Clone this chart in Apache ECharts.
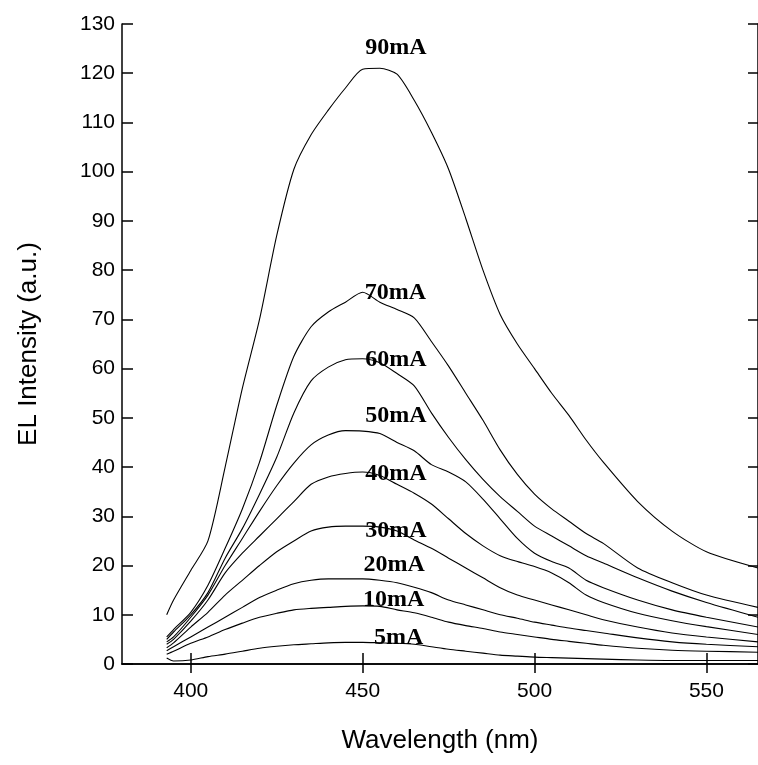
<!DOCTYPE html>
<html>
<head>
<meta charset="utf-8">
<script src="https://cdn.jsdelivr.net/npm/echarts@6/dist/echarts.min.js"></script>
<style>
html,body{margin:0;padding:0;background:#fff;}
#chart{width:758px;height:765px;}
</style>
</head>
<body>
<div id="chart"></div>
<script>
// Wavelength grid (nm)
var wavelength = [393, 395, 400, 405, 410, 415, 420, 425, 430, 435, 440, 445, 450, 455, 460, 465, 470, 475, 480, 485, 490, 495, 500, 505, 510, 515, 520, 530, 540, 550, 565];

// EL intensity (a.u.) for each drive current
var i90 = [10, 13, 19, 25, 40, 56, 70, 87, 100.5, 107.5, 112.5, 117, 120.8, 121, 119.8, 114.5, 108, 100.5, 90.5, 80, 71, 65, 60, 55, 50.5, 45.5, 41, 33, 27, 22.8, 19.5];
var i70 = [5.5, 7, 10.5, 16, 23.5, 31.5, 41, 52.5, 62.5, 68.5, 71.5, 73.5, 75.5, 73.5, 72, 70.3, 65.5, 60.5, 55, 49.5, 43.5, 38.5, 34.5, 31.5, 29, 26.5, 24.5, 19.5, 16.5, 14, 11.5];
var i60 = [5, 6.5, 10, 14.5, 21.5, 27.5, 34.5, 42, 51, 57.5, 60.3, 61.8, 62, 61.2, 59, 56.5, 51, 46, 41.5, 37.5, 34, 31, 28, 26, 24, 22, 20.5, 17.5, 14.8, 12.5, 9.5];
var i50 = [4.5, 5.5, 9.5, 14, 20, 25.5, 31, 36.2, 40.8, 44.5, 46.5, 47.4, 47.3, 46.8, 45, 43.3, 40.5, 39, 37, 33.5, 29.5, 25.5, 22.5, 20.8, 19.5, 17, 15.5, 13, 11, 9.5, 7.5];
var i40 = [4, 5, 8.7, 13, 18.5, 22.5, 26, 29.5, 33, 36.5, 38, 38.7, 39, 38.3, 36.5, 34.7, 32.5, 29.5, 26.5, 24, 22, 20.8, 19.8, 18.5, 16.5, 14, 12.5, 10.3, 8.8, 7.6, 6];
var i30 = [3.3, 4.3, 7.5, 10.5, 14, 17, 20, 22.8, 25, 27, 27.8, 28, 28, 27.8, 27, 25.2, 23.5, 21.5, 19.5, 17.5, 15.5, 14, 13, 12, 11, 10, 9, 7.5, 6.3, 5.5, 4.5];
var i20 = [2.7, 3.5, 5.5, 7.5, 9.5, 11.5, 13.5, 15, 16.3, 17, 17.3, 17.3, 17.3, 17, 16.5, 15.6, 14.5, 13, 12, 11, 10, 9.3, 8.5, 7.9, 7.3, 6.8, 6.3, 5.3, 4.5, 4, 3.5];
var i10 = [2, 2.6, 4.2, 5.5, 7, 8.3, 9.5, 10.3, 11, 11.3, 11.5, 11.7, 11.8, 11.7, 11, 10.4, 9.5, 8.5, 7.8, 7.2, 6.5, 6, 5.5, 5, 4.6, 4.2, 3.8, 3.2, 2.8, 2.6, 2.4];
var i5  = [1.2, 0.6, 0.8, 1.5, 2, 2.6, 3.2, 3.6, 3.9, 4.1, 4.3, 4.4, 4.4, 4.3, 4.2, 4, 3.5, 3, 2.6, 2.2, 1.8, 1.6, 1.4, 1.3, 1.2, 1.1, 1, 0.8, 0.7, 0.7, 0.7];

var seriesNames = ['90mA', '70mA', '60mA', '50mA', '40mA', '30mA', '20mA', '10mA', '5mA'];
var seriesValues = [i90, i70, i60, i50, i40, i30, i20, i10, i5];

// Curve annotations: [wavelength, intensity] of each label centre
var labelX = [459.7, 459.5, 459.7, 459.7, 459.7, 459.7, 459.2, 459.0, 460.5];
var labelY = [125.2, 75.4, 61.8, 50.4, 38.6, 27.1, 20.1, 13.0, 5.4];

var xTicks = [400, 450, 500, 550];

var chart = echarts.init(document.getElementById('chart'), null, {renderer: 'canvas'});

var lineSeries = seriesValues.map(function (vals, k) {
  return {
    name: seriesNames[k],
    type: 'line',
    data: wavelength.map(function (w, j) { return [w, vals[j]]; }),
    showSymbol: false,
    smooth: 0.25,
    lineStyle: {color: '#000', width: 1.1},
    silent: true,
    z: 3
  };
});

var labelSeries = {
  type: 'scatter',
  symbolSize: 0,
  silent: true,
  itemStyle: {color: '#000'},
  data: seriesNames.map(function (n, k) { return {value: [labelX[k], labelY[k]], name: n}; }),
  label: {
    show: true,
    position: 'inside',
    formatter: function (p) { return p.name; },
    fontFamily: '"Liberation Serif", "DejaVu Serif", serif',
    fontWeight: 'bold',
    fontSize: 24,
    color: '#000',
    textBorderWidth: 0,
    textBorderColor: 'transparent',
    opacity: 1
  },
  z: 5
};

var axisLineStyle = {color: '#000', width: 1.5};

chart.setOption({
  animation: false,
  backgroundColor: '#fff',
  grid: {left: 122, right: -2, top: 24, bottom: 101, containLabel: false},
  xAxis: [{
    type: 'value',
    min: 380,
    max: 565,
    position: 'bottom',
    name: 'Wavelength (nm)',
    nameLocation: 'middle',
    nameGap: 64,
    nameTextStyle: {fontFamily: '"Liberation Sans", Arial, sans-serif', fontSize: 26, color: '#000'},
    axisLine: {show: true, lineStyle: axisLineStyle},
    axisTick: {show: true, inside: true, length: 11, customValues: xTicks, lineStyle: {color: '#000', width: 1.5}},
    axisLabel: {show: true, customValues: xTicks, fontFamily: '"Liberation Sans", Arial, sans-serif', fontSize: 21, color: '#000', margin: 17},
    splitLine: {show: false}
  }, {
    type: 'value',
    min: 380,
    max: 565,
    position: 'top',
    axisLine: {show: true, lineStyle: axisLineStyle},
    axisTick: {show: true, inside: true, length: 9, customValues: xTicks, lineStyle: {color: '#000', width: 1.5}},
    axisLabel: {show: false},
    splitLine: {show: false}
  }],
  yAxis: [{
    type: 'value',
    min: 0,
    max: 130,
    interval: 10,
    position: 'left',
    name: 'EL Intensity (a.u.)',
    nameLocation: 'middle',
    nameGap: 80,
    nameRotate: 90,
    nameTextStyle: {fontFamily: '"Liberation Sans", Arial, sans-serif', fontSize: 26, color: '#000'},
    axisLine: {show: true, lineStyle: axisLineStyle},
    axisTick: {show: true, inside: true, length: 11, lineStyle: {color: '#000', width: 1.5}},
    axisLabel: {show: true, fontFamily: '"Liberation Sans", Arial, sans-serif', fontSize: 21, color: '#000', margin: 7},
    splitLine: {show: false}
  }, {
    type: 'value',
    min: 0,
    max: 130,
    interval: 10,
    position: 'right',
    axisLine: {show: true, lineStyle: axisLineStyle},
    axisTick: {show: true, inside: true, length: 10, lineStyle: {color: '#000', width: 1.5}},
    axisLabel: {show: false},
    splitLine: {show: false}
  }],
  series: lineSeries.concat([labelSeries])
});
</script>
</body>
</html>
